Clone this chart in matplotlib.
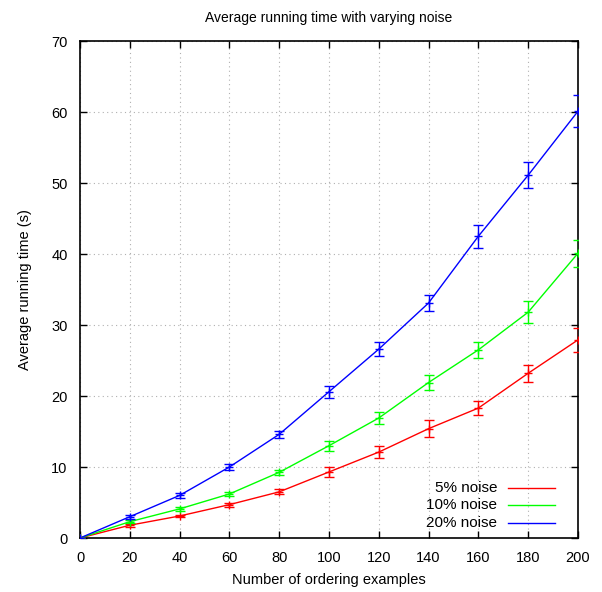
import matplotlib
matplotlib.use("Agg")
import matplotlib.pyplot as plt

plt.rcParams['font.family'] = ['Liberation Sans', 'DejaVu Sans']
plt.rcParams['font.size'] = 9

examples = [0, 20, 40, 60, 80, 100, 120, 140, 160, 180, 200]

noise5 = [0, 1.8, 3.1, 4.7, 6.5, 9.3, 12.1, 15.4, 18.3, 23.2, 27.9]
noise5_err = [0, 0.2, 0.2, 0.3, 0.35, 0.7, 0.8, 1.2, 1.0, 1.2, 1.65]

noise10 = [0, 2.3, 4.1, 6.2, 9.25, 13.0, 16.9, 21.9, 26.5, 31.8, 40.1]
noise10_err = [0, 0.2, 0.25, 0.3, 0.35, 0.7, 0.8, 1.1, 1.1, 1.55, 1.9]

noise20 = [0, 3.0, 6.0, 10.0, 14.6, 20.6, 26.6, 33.1, 42.5, 51.1, 60.1]
noise20_err = [0, 0.3, 0.3, 0.4, 0.5, 0.85, 1.0, 1.1, 1.6, 1.8, 2.25]

series = [
    ("5% noise", noise5, noise5_err, "#ff0000"),
    ("10% noise", noise10, noise10_err, "#00ff00"),
    ("20% noise", noise20, noise20_err, "#0000ff"),
]

fig = plt.figure(figsize=(6.02, 5.92), dpi=100)
ax = fig.add_axes([0.1329, 0.0912, 0.8271, 0.8395])

for label, vals, errs, col in series:
    ax.plot(examples, vals, color=col, lw=1.0, zorder=3)
    ax.errorbar(examples, vals, yerr=errs, fmt='+', color=col, ms=6, mew=1.0,
                elinewidth=1.0, capsize=3.5, capthick=1.0, zorder=3)

ax.set_xlim(0, 200)
ax.set_ylim(0, 70)
ax.set_xticks(range(0, 201, 20))
ax.set_yticks(range(0, 71, 10))
ax.grid(True, color='#b0b0b0', linestyle=(0, (1, 3)), linewidth=0.8)
ax.tick_params(direction='in', length=5, width=1, top=True, right=True,
               labelsize=10.5, pad=9)
for s in ax.spines.values():
    s.set_linewidth(1.2)

ax.set_title("Average running time with varying noise", fontsize=10, pad=14)
ax.set_xlabel("Number of ordering examples", fontsize=10.5, labelpad=6)
ax.set_ylabel("Average running time (s)", fontsize=10.5, labelpad=14)

# gnuplot-style key: right-aligned text, sample line to the right
for i, (label, vals, errs, col) in enumerate(series):
    y = 0.1 - i * 0.0345
    ax.text(0.838, y, label, transform=ax.transAxes, ha='right', va='center',
            fontsize=11)
    ax.plot([0.86, 0.953], [y, y], transform=ax.transAxes, color=col, lw=1.0)

fig.savefig("out.png", dpi=100)
